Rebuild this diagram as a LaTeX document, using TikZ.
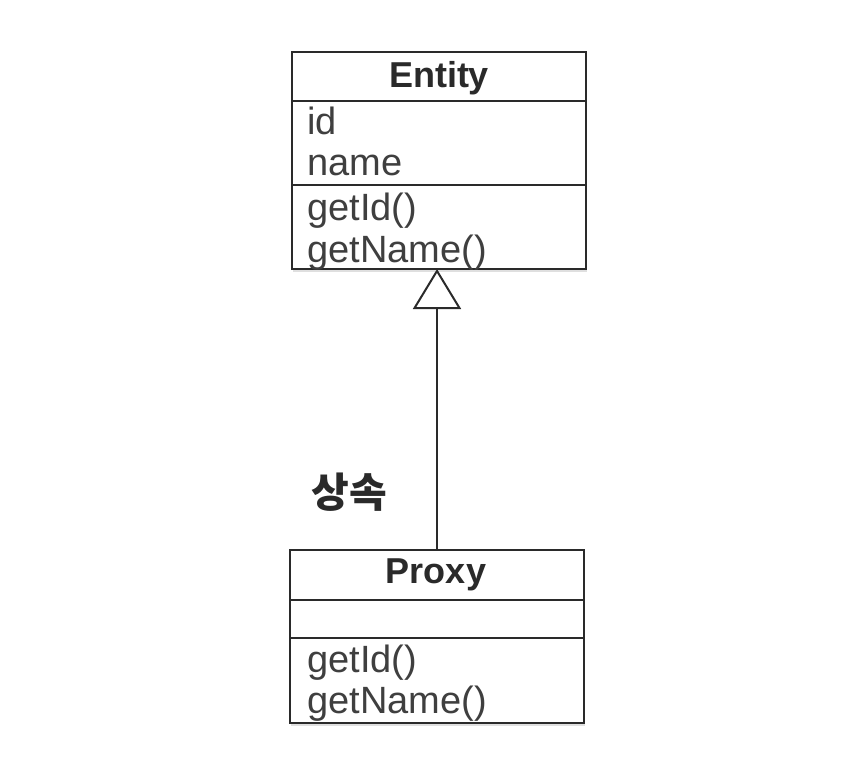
\documentclass[tikz,border=0pt]{standalone}
\usepackage{fontspec}
\setmainfont{Liberation Sans}
\newfontfamily\kofont{Noto Sans CJK KR}
\usetikzlibrary{arrows.meta,shadows}
\definecolor{ink}{HTML}{2A2A2A}
\tikzset{
	classbox/.style={
		draw=ink, line width=2pt, fill=white, inner sep=0pt,
		minimum width=294pt,
		drop shadow={shadow xshift=1pt, shadow yshift=-3pt, opacity=.25, fill=gray}
	},
	classname/.style={anchor=base, inner sep=0pt, text=ink, font={\fontsize{36}{40}\selectfont\bfseries}},
	member/.style={anchor=base west, inner sep=0pt, text=ink!90, font={\fontsize{38}{42}\selectfont}},
	divider/.style={draw=ink, line width=2pt},
	inherit/.style={draw=ink, line width=2pt, -{Triangle[open, length=40pt, width=48pt]}},
}

\begin{document}
\begin{tikzpicture}[x=1pt, y=-1pt]
\useasboundingbox[fill=white] (0,0) rectangle (864,768);
% Entity class
\node[classbox, minimum height=217pt] (entity) at (439,160.5) {};
\node[classname] (entityname) at (439,88) {Entity};
\draw[divider] (entity.west |- 0,101) -- (entity.east |- 0,101);
\draw[divider] (entity.west |- 0,185) -- (entity.east |- 0,185);
\node[member] (eid)   at (307,134) {id};
\node[member] (ename) at (307,175) {name};
\node[member] (egetid)   at (307,220) {getId()};
\node[member] (egetname) at (307,262) {getName()};
% Proxy class
\node[classbox, minimum height=173pt] (proxy) at (437,636.5) {};
\node[classname] (proxyname) at (436,583) {Proxy};
\draw[divider] (proxy.west |- 0,600) -- (proxy.east |- 0,600);
\draw[divider] (proxy.west |- 0,638) -- (proxy.east |- 0,638);
\node[member] (pgetid)   at (307,672) {getId()};
\node[member] (pgetname) at (307,713) {getName()};
% inheritance
\coordinate (up)   at (437,269);
\coordinate (down) at (437,550);
\draw[inherit] (down) -- (up);
\node[text=ink, inner sep=0pt, font={\kofont\fontsize{41}{45}\selectfont\bfseries}] (inheritlabel) at (349,492) {상속};
\end{tikzpicture}
\end{document}
